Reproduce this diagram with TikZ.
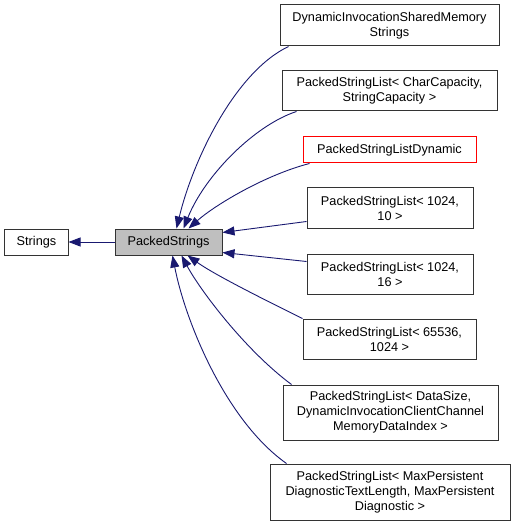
\documentclass[tikz,border=0pt]{standalone}
\usepackage{fontspec}
\setmainfont{Liberation Sans}
\usetikzlibrary{arrows.meta,calc}
\definecolor{midnight}{RGB}{25,25,112}
\definecolor{boxgray}{RGB}{191,191,191}
\begin{document}
\begin{tikzpicture}[x=1bp,y=-1bp,
  box/.style={draw=black!80, line width=1bp, fill=white, inner sep=0pt, align=center,
    font=\fontsize{12.7bp}{15bp}\selectfont},
  edge/.style={draw=midnight, line width=0.9bp, -{Triangle[length=12bp,width=9bp]}}]
\useasboundingbox (0,0) rectangle (515,526);
\node[box, minimum width=63bp, minimum height=26bp] (strings) at (36.5,242) {Strings};
\node[box, fill=boxgray, minimum width=107bp, minimum height=26bp] (ps) at (168.5,242) {PackedStrings};
\node[box, minimum width=219bp, minimum height=41bp] (b1) at (389.5,25.5) {DynamicInvocationSharedMemory\\Strings};
\node[box, minimum width=215bp, minimum height=40bp] (b2) at (389.5,91) {PackedStringList< CharCapacity,\\StringCapacity >};
\node[box, draw=red, minimum width=173bp, minimum height=26bp] (b3) at (389.5,150) {PackedStringListDynamic};
\node[box, minimum width=166bp, minimum height=40bp] (b4) at (390,208) {PackedStringList< 1024,\\10 >};
\node[box, minimum width=166bp, minimum height=40bp] (b5) at (390,274) {PackedStringList< 1024,\\16 >};
\node[box, minimum width=173bp, minimum height=40bp] (b6) at (389.5,339) {PackedStringList< 65536,\\1024 >};
\node[box, minimum width=215bp, minimum height=55bp] (b7) at (390.5,412.5) {PackedStringList< DataSize,\\DynamicInvocationClientChannel\\MemoryDataIndex >};
\node[box, minimum width=240bp, minimum height=56bp] (b8) at (390,492) {PackedStringList< MaxPersistent\\DiagnosticTextLength, MaxPersistent\\Diagnostic >};
\draw[edge] (ps.west) -- (strings.east);
\draw[edge] ([xshift=9bp]b1.south west) .. controls (235,72) and (193,160) .. ([xshift=62bp]ps.north west);
\draw[edge] ([xshift=15bp]b2.south west) .. controls (255,125) and (205,175) .. ([xshift=69bp]ps.north west);
\draw[edge] ([xshift=7bp]b3.south west) .. controls (265,175) and (215,205) .. ([xshift=74bp]ps.north west);
\draw[edge] ([yshift=7bp]b4.south west) -- ([yshift=-4bp]ps.north east);
\draw[edge] ([yshift=-8bp]b5.north west) -- ([yshift=3bp]ps.south east);
\draw[edge] (b6.north west) .. controls (265,300) and (215,275) .. ([xshift=73bp]ps.south west);
\draw[edge] ([xshift=9bp]b7.north west) .. controls (245,350) and (200,290) .. ([xshift=67bp]ps.south west);
\draw[edge] ([xshift=17bp]b8.north west) .. controls (225,420) and (185,320) .. ([xshift=58bp]ps.south west);
\end{tikzpicture}
\end{document}
